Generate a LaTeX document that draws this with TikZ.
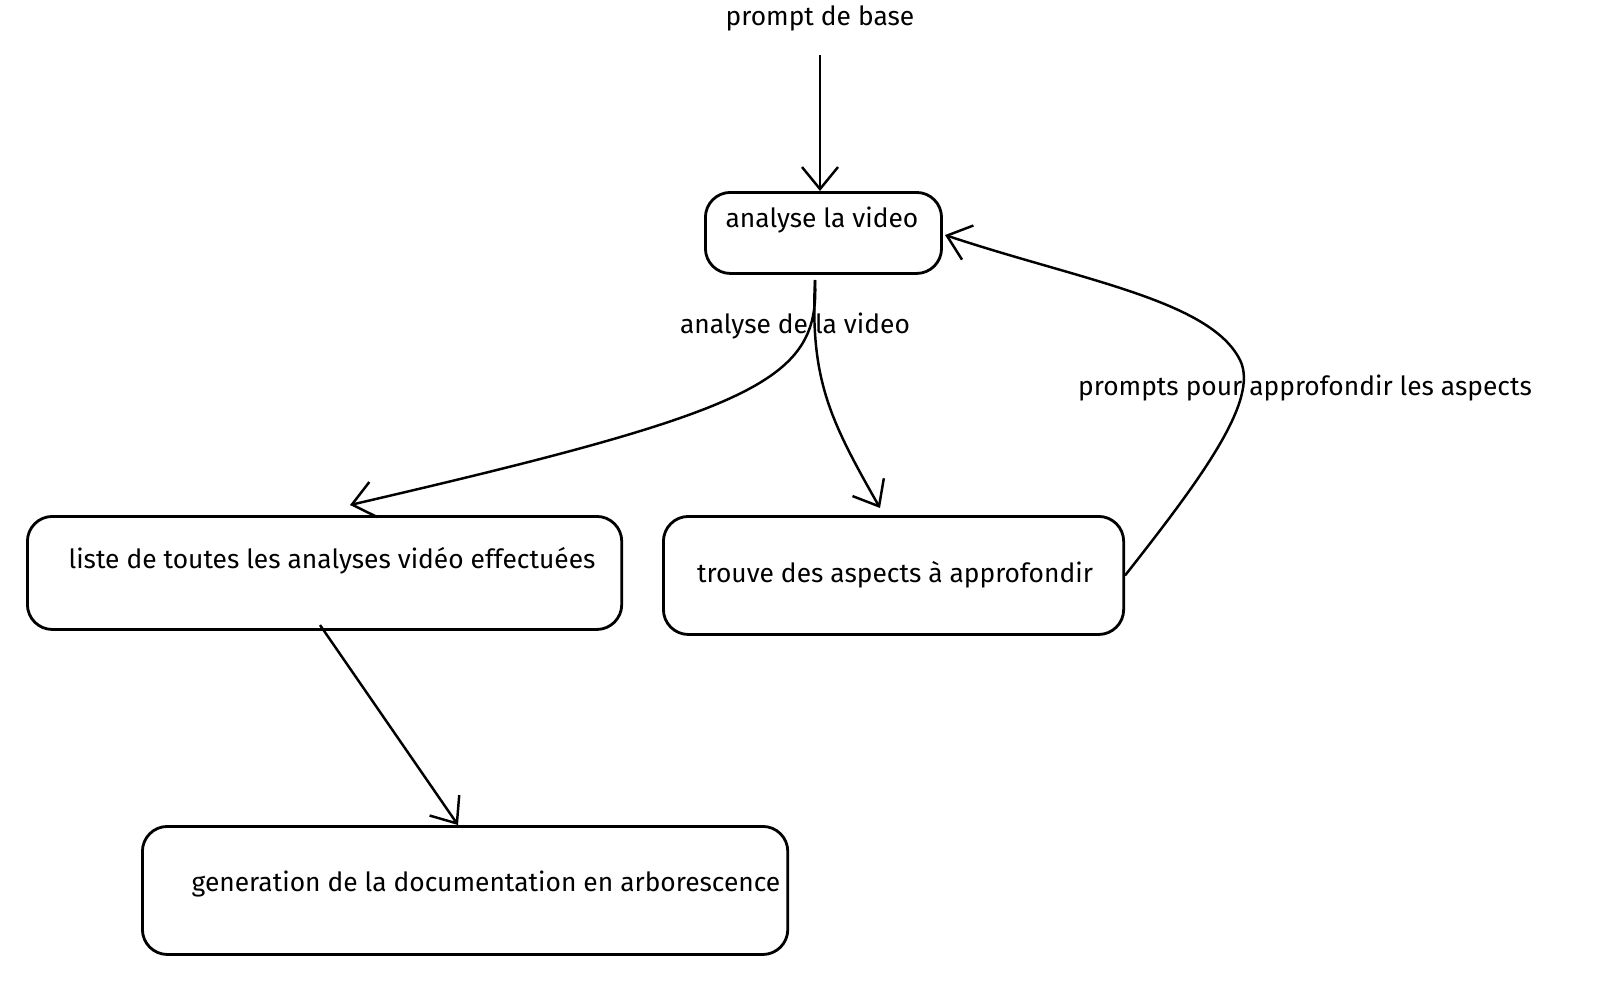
\documentclass[tikz,border=0pt]{standalone}
\usepackage{fontspec}
\setmainfont{Fira Sans}
\usetikzlibrary{arrows.meta}
\begin{document}
\begin{tikzpicture}[x=0.01cm, y=-0.01cm,
		box/.style={draw, line width=0.8pt, rounded corners=2.5mm, anchor=north west},
		lbl/.style={font=\fontsize{7.5}{9}\selectfont},
		link/.style={draw, line width=0.7pt, -{Straight Barb[length=2.2mm, width=3.6mm]}}
	]
	\useasboundingbox (0,0) rectangle (1600,984);
	\fontsize{7.5}{9}\selectfont

	\node[lbl] (base) at (820,18) {prompt de base};
	\coordinate (basestart) at (820,55);

	\node[box, minimum width=2.36cm, minimum height=0.81cm] (analyse) at (704,191) {};
	\node[lbl] at (822,220) {analyse la video};

	\node[box, minimum width=5.94cm, minimum height=1.13cm] (liste) at (26,515) {};
	\node[lbl] at (332,561) {liste de toutes les analyses vidéo effectuées};

	\node[box, minimum width=4.6cm, minimum height=1.18cm] (trouve) at (662,515) {};
	\node[lbl] at (895,575) {trouve des aspects à approfondir};

	\node[box, minimum width=6.45cm, minimum height=1.28cm] (gen) at (141,825) {};
	\node[lbl] at (486,884) {generation de la documentation en arborescence};

	\coordinate (split) at (815,280);

	\draw[link] (basestart) -- (analyse.north -| basestart);
	\draw[link] (split) .. controls (820,380) and (760,410) .. (350,505);
	\draw[link] (split) .. controls (810,380) and (830,420) .. (880,508);
	\node[lbl] (anlbl) at (795,326) {analyse de la video};
	\draw[link] (trouve.east) .. controls (1200,480) and (1260,400) .. (1240,360)
		.. controls (1210,300) and (1080,280) .. (945,235);
	\node[lbl] (aspects) at (1305,388) {prompts pour approfondir les aspects};
	\draw[link] (320,625) -- (gen.north -| 458,0);
\end{tikzpicture}
\end{document}
